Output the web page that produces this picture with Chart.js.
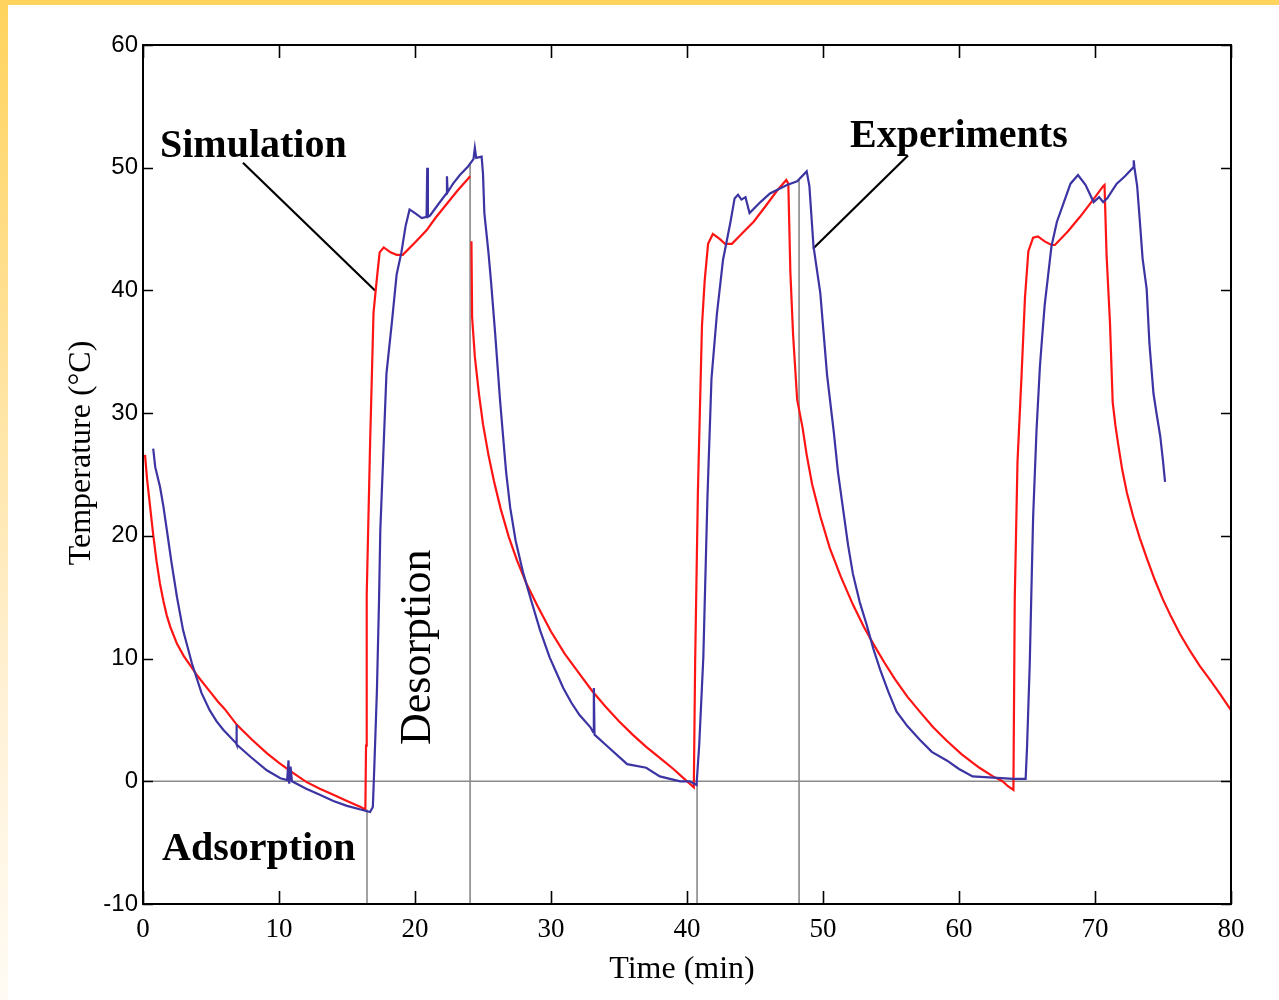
<!DOCTYPE html>
<html>
<head>
<meta charset="utf-8">
<title>Temperature cycling: simulation vs experiments</title>
<script src="https://cdn.jsdelivr.net/npm/chart.js@4.4.1/dist/chart.umd.min.js"></script>
<style>
  html, body { margin: 0; padding: 0; background: #fff; }
  #wrap { position: relative; width: 1279px; height: 1000px; overflow: hidden; background: #fff; }
  #c { position: absolute; left: 0; top: 0; }
  #bandTop { position: absolute; left: 0; top: 0; width: 1279px; height: 5px; background: #ffd35c; }
  #bandLeft { position: absolute; left: 0; top: 0; width: 8px; height: 1000px;
              background: linear-gradient(#ffd35c 0%, #ffe29a 35%, #fff1d6 70%, #fffbf4 100%); }
</style>
</head>
<body>
<div id="wrap">
  <canvas id="c" width="1279" height="1000"></canvas>
  <div id="bandTop"></div>
  <div id="bandLeft"></div>
</div>
<script>
// Simulated temperature (°C) against time (min); null marks a break in the trace
const simTime = [0.15, 0.3, 0.5, 0.75, 1.0, 1.25, 1.5, 1.75, 2.0, 2.25, 2.5, 3.0, 3.5, 4.0, 4.5, 5.0, 5.5, 6.0, 6.9, 8.0,
  9.1, 10.0, 11.0, 12.0, 13.0, 14.0, 15.0, 16.0, 16.35, 16.4, 16.45, 16.7, 16.95, 17.2, 17.4, 17.7, 18.2, 18.65, 19.1, 20.0,
  20.85, 21.5, 22.3, 23.1, 23.9, 24.05, 24.1, 24.15, 24.2, 24.4, 24.7, 25.0, 25.4, 25.8, 26.3, 26.9, 27.5, 28.2, 29.0, 30.0,
  31.0, 32.0, 33.0, 34.0, 35.0, 36.0, 37.0, 38.0, 39.0, 39.7, 40.2, 40.5, 40.6, 40.8, 41.1, 41.3, 41.55, 41.9, 42.4, 42.8,
  43.3, 44.1, 44.9, 45.8, 46.6, 47.3, 47.45, 47.6, 47.8, 48.1, 48.5, 48.8, 49.2, 49.8, 50.5, 51.3, 52.2, 53.0, 53.7, 54.5,
  55.3, 56.2, 57.1, 58.1, 59.1, 60.2, 61.5, 62.5, 63.2, 63.6, 64.0, 64.1, 64.3, 64.6, 64.85, 65.1, 65.45, 65.8, 66.3, 66.8,
  67.05, 68.0, 68.9, 69.8, 70.6, 70.7, 70.85, 71.1, 71.3, 71.5, 71.7, 72.0, 72.35, 72.8, 73.3, 73.8, 74.4, 75.0, 75.6, 76.25,
  77.0, 77.7, 78.5, 79.2, 80.0];
const simTemp = [26.6, 24.6, 22.6, 20.1, 17.9, 16.1, 14.7, 13.5, 12.6, 11.9, 11.2, 10.2, 9.4, 8.6, 7.9, 7.2, 6.5, 5.9, 4.6, 3.4,
  2.3, 1.5, 0.7, -0.05, -0.6, -1.1, -1.6, -2.1, -2.3, 2.9, 15.2, 27.6, 38.2, 41.0, 43.1, 43.5, 43.1, 42.9, 42.9, 43.9,
  44.9, 45.9, 47.0, 48.1, 49.1, 49.3, null, 44.0, 37.8, 34.6, 31.6, 29.1, 26.6, 24.5, 22.2, 19.9, 18.0, 16.1, 14.3, 12.2,
  10.4, 8.9, 7.4, 6.1, 4.9, 3.8, 2.8, 1.9, 1.0, 0.3, -0.2, -0.5, 9.8, 23.5, 37.1, 40.8, 43.8, 44.6, 44.2, 43.8,
  43.8, 44.7, 45.6, 46.9, 48.1, 49.0, 48.7, 41.5, 36.4, 31.1, 28.8, 26.6, 24.2, 21.6, 19.0, 16.7, 14.4, 12.6, 11.2, 9.7,
  8.3, 6.9, 5.7, 4.4, 3.3, 2.2, 1.1, 0.4, 0.0, -0.4, -0.7, 14.9, 26.0, 33.1, 39.4, 43.2, 44.3, 44.4, 44.0, 43.7,
  43.7, 44.8, 46.0, 47.3, 48.5, 48.6, 42.9, 37.4, 30.9, 29.0, 27.5, 25.4, 23.5, 21.6, 19.8, 18.2, 16.4, 14.8, 13.4, 12.0,
  10.6, 9.4, 8.2, 7.1, 5.8];

// Measured temperature (°C) against time (min)
const expTime = [0.75, 0.9, 1.25, 1.5, 1.75, 2.1, 2.5, 2.95, 3.6, 4.3, 4.9, 5.4, 5.9, 6.85, 6.87, 6.9, 7.9, 9.1, 10.1, 10.6,
  10.7, 10.75, 10.85, 10.95, 12.0, 13.0, 14.0, 15.0, 16.0, 16.7, 16.9, 17.0, 17.2, 17.35, 17.45, 17.65, 17.9, 18.3, 18.65, 19.0,
  19.3, 19.6, 20.0, 20.5, 20.85, 20.9, 20.95, 21.1, 21.7, 22.3, 22.35, 22.4, 22.8, 23.3, 23.9, 24.3, 24.4, 24.5, 24.9, 25.0,
  25.1, 25.4, 25.6, 25.9, 26.25, 26.5, 26.7, 27.0, 27.4, 27.95, 28.5, 29.2, 29.9, 30.5, 30.9, 31.5, 32.1, 32.9, 33.1, 33.15,
  33.2, 34.1, 35.6, 37.0, 38.0, 39.5, 40.2, 40.7, 40.9, 41.2, 41.5, 41.8, 42.2, 42.65, 42.9, 43.2, 43.5, 43.75, 44.0, 44.3,
  44.6, 45.4, 46.1, 47.35, 48.1, 48.8, 49.0, 49.3, 49.8, 50.3, 50.8, 51.1, 51.5, 51.85, 52.2, 52.7, 53.2, 53.7, 54.2, 54.8,
  55.4, 56.2, 57.1, 58.0, 59.1, 60.0, 61.0, 62.5, 64.0, 64.9, 65.0, 65.2, 65.35, 65.45, 65.7, 65.95, 66.1, 66.3, 66.55, 66.8,
  67.2, 67.65, 68.2, 68.75, 69.3, 69.9, 70.3, 70.6, 70.9, 71.3, 71.6, 72.2, 72.8, 72.85, 72.9, 73.1, 73.3, 73.5, 73.8, 74.0,
  74.3, 74.55, 74.8, 75.0, 75.15];
const expTemp = [27.1, 25.6, 24.0, 22.4, 20.5, 17.8, 15.0, 12.3, 9.6, 7.2, 5.8, 4.9, 4.2, 3.1, 4.6, 3.0, 2.0, 0.9, 0.25, 0.1,
  1.7, -0.2, 1.2, 0.0, -0.6, -1.1, -1.6, -2.0, -2.3, -2.5, -2.1, 0.9, 7.4, 14.5, 20.5, 26.1, 33.2, 37.4, 41.3, 43.1,
  45.2, 46.6, 46.3, 45.9, 46.0, 50.0, 46.0, 46.1, 47.0, 47.9, 49.3, 48.0, 48.7, 49.4, 50.1, 50.7, 51.6, 50.8, 50.9, 49.5,
  46.3, 43.1, 40.6, 36.4, 31.1, 27.8, 25.2, 22.3, 19.6, 17.0, 14.9, 12.3, 10.1, 8.6, 7.6, 6.4, 5.4, 4.4, 4.0, 7.6,
  3.8, 2.9, 1.4, 1.1, 0.4, 0.0, 0.0, -0.3, 3.0, 10.1, 23.0, 32.8, 38.1, 42.5, 43.9, 45.6, 47.5, 47.8, 47.4, 47.6,
  46.3, 47.2, 47.9, 48.6, 48.9, 49.7, 48.5, 43.6, 39.8, 33.1, 28.4, 25.2, 22.0, 19.2, 16.9, 14.6, 12.8, 10.8, 9.1, 7.3,
  5.7, 4.5, 3.4, 2.4, 1.7, 1.0, 0.4, 0.3, 0.2, 0.2, 2.7, 9.5, 16.8, 21.5, 28.6, 33.8, 36.0, 38.8, 41.2, 43.6,
  45.6, 47.0, 48.7, 49.4, 48.6, 47.2, 47.6, 47.2, 47.5, 48.2, 48.7, 49.3, 50.0, 50.6, 50.0, 48.5, 45.6, 42.6, 40.1, 35.7,
  31.6, 29.8, 28.1, 26.1, 24.4];

// Phase switches: vertical markers from the trace down to the axis floor
const switchTime = [16.47, 24.05, 40.74, 48.24];
const switchTopTemp = [-2.3, 50.3, -0.1, 49.0];

// Zero reference line
const zeroTime = [0, 80];
const zeroTemp = [0, 0];

// Callout pointers (label end -> curve end)
const simPointerTime = [7.35, 17.06];
const simPointerTemp = [50.4, 40.0];
const expPointerTime = [56.25, 49.26];
const expPointerTemp = [51.0, 43.4];

// Axis ticks
const timeTicks = [0, 10, 20, 30, 40, 50, 60, 70, 80];
const tempTicks = [-10, 0, 10, 20, 30, 40, 50, 60];

const pts = (xs, ys) => xs.map((x, i) => ({ x: x, y: ys[i] }));

const lineStyle = (color, width) => ({
  showLine: true, borderColor: color, backgroundColor: color, borderWidth: width,
  pointRadius: 0, pointHoverRadius: 0, tension: 0, fill: false, spanGaps: false
});

const datasets = [
  Object.assign({ label: 'Experiments', data: pts(expTime, expTemp) }, lineStyle('#3b34a2', 2.2)),
  Object.assign({ label: 'Simulation', data: pts(simTime, simTemp) }, lineStyle('#ff1414', 2.2)),
  Object.assign({ label: 'simPointer', data: pts(simPointerTime, simPointerTemp) }, lineStyle('#000', 2.2)),
  Object.assign({ label: 'expPointer', data: pts(expPointerTime, expPointerTemp) }, lineStyle('#000', 2.2)),
  Object.assign({ label: 'zero', data: pts(zeroTime, zeroTemp) }, lineStyle('#8a8a8a', 1.6))
];
switchTime.forEach((t, i) => {
  datasets.push(Object.assign({ label: 'switch' + i, data: pts([t, t], [switchTopTemp[i], tempTicks[0]]) },
    lineStyle('#8a8a8a', 1.6)));
});

const SERIF = '"Liberation Serif", "Times New Roman", serif';
const SANS = '"Liberation Sans", Arial, sans-serif';

// Frame, inward ticks, axis titles and annotations
const decor = {
  id: 'decor',
  afterDraw(chart) {
    const { ctx, chartArea: a, scales: { x, y } } = chart;
    ctx.save();
    ctx.strokeStyle = '#000';
    ctx.lineWidth = 2;
    ctx.strokeRect(a.left, a.top, a.right - a.left, a.bottom - a.top);

    ctx.lineWidth = 1.6;
    ctx.beginPath();
    timeTicks.forEach(v => {
      const px = Math.round(x.getPixelForValue(v)) + 0.5;
      ctx.moveTo(px, a.bottom); ctx.lineTo(px, a.bottom - 13);
      ctx.moveTo(px, a.top); ctx.lineTo(px, a.top + 13);
    });
    tempTicks.forEach(v => {
      const py = Math.round(y.getPixelForValue(v)) + 0.5;
      ctx.moveTo(a.left, py); ctx.lineTo(a.left + 10, py);
      ctx.moveTo(a.right, py); ctx.lineTo(a.right - 10, py);
    });
    ctx.stroke();

    ctx.fillStyle = '#000';
    ctx.textBaseline = 'alphabetic';

    // axis titles
    ctx.font = '32px ' + SERIF;
    ctx.textAlign = 'center';
    ctx.fillText('Time (min)', 682, 978);
    ctx.save();
    ctx.translate(90, 453);
    ctx.rotate(-Math.PI / 2);
    ctx.fillText('Temperature (°C)', 0, 0);
    ctx.restore();

    // annotations
    ctx.textAlign = 'left';
    ctx.font = 'bold 40px ' + SERIF;
    ctx.fillText('Simulation', 160, 157);
    ctx.fillText('Experiments', 850, 147);
    ctx.fillText('Adsorption', 162, 860);
    ctx.save();
    ctx.translate(430, 745);
    ctx.rotate(-Math.PI / 2);
    ctx.font = '44px ' + SERIF;
    ctx.fillText('Desorption', 0, 0);
    ctx.restore();
    ctx.restore();
  }
};

new Chart(document.getElementById('c'), {
  type: 'scatter',
  data: { datasets: datasets },
  options: {
    responsive: false,
    devicePixelRatio: 1,
    animation: false,
    events: [],
    layout: { padding: { left: 0, top: 45, right: 48, bottom: 0 } },
    plugins: { legend: { display: false }, tooltip: { enabled: false }, title: { display: false } },
    scales: {
      x: {
        type: 'linear', position: 'bottom', min: 0, max: 80,
        afterBuildTicks: s => { s.ticks = timeTicks.map(v => ({ value: v })); },
        afterFit: s => { s.height = 96; },
        ticks: { color: '#000', font: { family: SERIF, size: 27 }, padding: 10, maxRotation: 0, autoSkip: false },
        grid: { display: false, drawTicks: false },
        border: { display: false }
      },
      y: {
        type: 'linear', position: 'left', min: -10, max: 60,
        afterBuildTicks: s => { s.ticks = tempTicks.map(v => ({ value: v })); },
        afterFit: s => { s.width = 143; },
        ticks: { color: '#000', font: { family: SANS, size: 24 }, padding: 5, autoSkip: false },
        grid: { display: false, drawTicks: false },
        border: { display: false }
      }
    }
  },
  plugins: [decor]
});
</script>
</body>
</html>
